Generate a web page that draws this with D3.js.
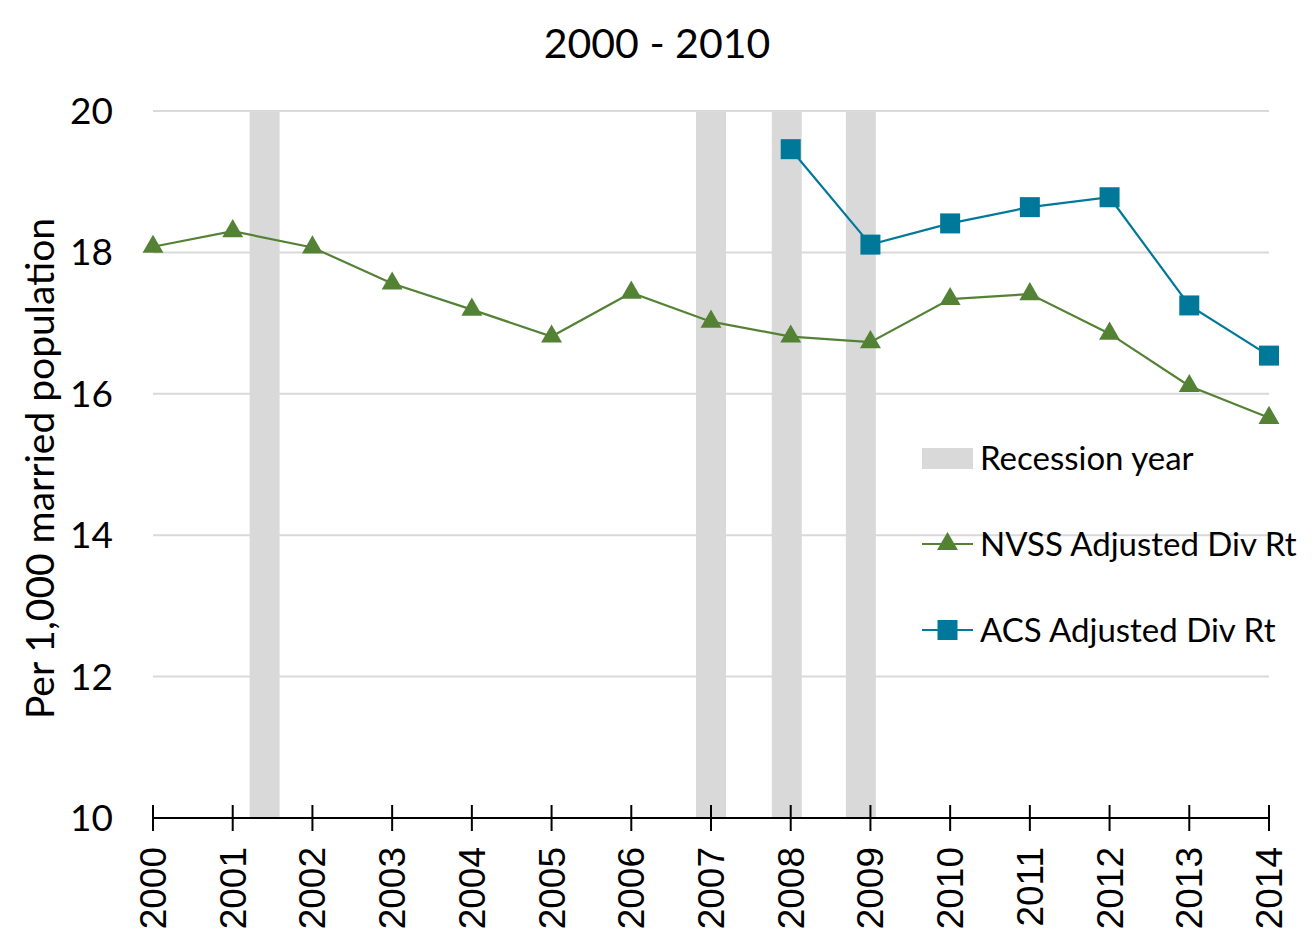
<!DOCTYPE html>
<html>
<head>
<meta charset="utf-8">
<script src="https://cdn.jsdelivr.net/npm/d3@7"></script>
<style>
  body { margin: 0; background: #fff; }
  svg text { font-family: Lato, "Open Sans", sans-serif; fill: #000; }
  svg text.xlab { font-family: "Liberation Sans", Arial, sans-serif; }
</style>
</head>
<body>
<div id="chart"></div>
<script>
// Data
const years = [2000, 2001, 2002, 2003, 2004, 2005, 2006, 2007, 2008, 2009, 2010, 2011, 2012, 2013, 2014];
const nvss = [18.08, 18.30, 18.07, 17.56, 17.19, 16.81, 17.43, 17.02, 16.81, 16.73, 17.34, 17.41, 16.85, 16.11, 15.66];
const acsYears = [2008, 2009, 2010, 2011, 2012, 2013, 2014];
const acs = [19.46, 18.11, 18.41, 18.64, 18.78, 17.25, 16.54];
const recessions = [2001.4, 2007.0, 2007.95, 2008.88];
const yTicks = [10, 12, 14, 16, 18, 20];

const W = 1313, H = 951;
const m = { left: 153, right: 1269, top: 111, bottom: 818 };
const green = '#548235', teal = '#00789A', gray = '#D9D9D9';

const svg = d3.select('#chart').append('svg')
  .attr('width', W).attr('height', H);

const x = d3.scaleLinear().domain([2000, 2014]).range([m.left, m.right]);
const y = d3.scaleLinear().domain([10, 20]).range([m.bottom, m.top]);

// Title
svg.append('text')
  .attr('x', 657).attr('y', 58)
  .attr('text-anchor', 'middle')
  .style('font-size', '41px')
  .text('2000 - 2010');

// Gridlines
svg.append('g').selectAll('line')
  .data(yTicks.filter(d => d > 10)).join('line')
  .attr('x1', m.left).attr('x2', m.right)
  .attr('y1', d => y(d)).attr('y2', d => y(d))
  .attr('stroke', gray).attr('stroke-width', 2);

// Recession bars
const barW = 30;
svg.append('g').selectAll('rect')
  .data(recessions).join('rect')
  .attr('x', d => x(d) - barW / 2)
  .attr('width', barW)
  .attr('y', y(20))
  .attr('height', y(10) - y(20))
  .attr('fill', gray);

// Y axis labels
svg.append('g').selectAll('text')
  .data(yTicks).join('text')
  .attr('x', 113).attr('y', d => y(d) + 13)
  .attr('text-anchor', 'end')
  .style('font-size', '37px')
  .text(d => d);

// Y axis title
svg.append('text')
  .attr('transform', `translate(54,${(210 + 727) / 2}) rotate(-90)`)
  .attr('text-anchor', 'middle')
  .style('font-size', '39px')
  .text('Per 1,000 married population');

// X axis
const xAxis = svg.append('g');
xAxis.append('line')
  .attr('x1', m.left).attr('x2', m.right)
  .attr('y1', m.bottom).attr('y2', m.bottom)
  .attr('stroke', '#000').attr('stroke-width', 2);
xAxis.selectAll('line.tick')
  .data(years).join('line')
  .attr('class', 'tick')
  .attr('x1', d => x(d)).attr('x2', d => x(d))
  .attr('y1', m.bottom - 13).attr('y2', m.bottom + 13)
  .attr('stroke', '#000').attr('stroke-width', 2);
xAxis.selectAll('text')
  .data(years).join('text')
  .attr('class', 'xlab')
  .attr('transform', d => `translate(${x(d) + 13},${m.bottom + 29}) rotate(-90)`)
  .attr('text-anchor', 'end')
  .style('font-size', '37px')
  .text(d => d);

// Series lines
const line = d3.line().x(d => x(d[0])).y(d => y(d[1]));
const nvssPts = years.map((yr, i) => [yr, nvss[i]]);
const acsPts = acsYears.map((yr, i) => [yr, acs[i]]);

svg.append('path').datum(nvssPts)
  .attr('d', line).attr('fill', 'none')
  .attr('stroke', green).attr('stroke-width', 2.2);
svg.append('path').datum(acsPts)
  .attr('d', line).attr('fill', 'none')
  .attr('stroke', teal).attr('stroke-width', 2.2);

const triangle = d3.symbol().type(d3.symbolTriangle).size(190);
svg.append('g').selectAll('path')
  .data(nvssPts).join('path')
  .attr('d', triangle)
  .attr('transform', d => `translate(${x(d[0])},${y(d[1])})`)
  .attr('fill', green);

svg.append('g').selectAll('rect')
  .data(acsPts).join('rect')
  .attr('x', d => x(d[0]) - 10).attr('y', d => y(d[1]) - 10)
  .attr('width', 20).attr('height', 20)
  .attr('fill', teal);

// Legend
const lg = svg.append('g');
lg.append('rect')
  .attr('x', 922).attr('y', 448).attr('width', 51).attr('height', 21)
  .attr('fill', gray);
lg.append('text').attr('x', 980).attr('y', 470)
  .style('font-size', '33px').text('Recession year');

lg.append('line').attr('x1', 922).attr('x2', 973).attr('y1', 544).attr('y2', 544)
  .attr('stroke', green).attr('stroke-width', 2.2);
lg.append('path').attr('d', triangle)
  .attr('transform', 'translate(947.5,544)').attr('fill', green);
lg.append('text').attr('x', 980).attr('y', 556)
  .style('font-size', '33px').text('NVSS Adjusted Div Rt');

lg.append('line').attr('x1', 922).attr('x2', 973).attr('y1', 630).attr('y2', 630)
  .attr('stroke', teal).attr('stroke-width', 2.2);
lg.append('rect').attr('x', 937.5).attr('y', 620).attr('width', 20).attr('height', 20)
  .attr('fill', teal);
lg.append('text').attr('x', 980).attr('y', 642)
  .style('font-size', '33px').text('ACS Adjusted Div Rt');
</script>
</body>
</html>
